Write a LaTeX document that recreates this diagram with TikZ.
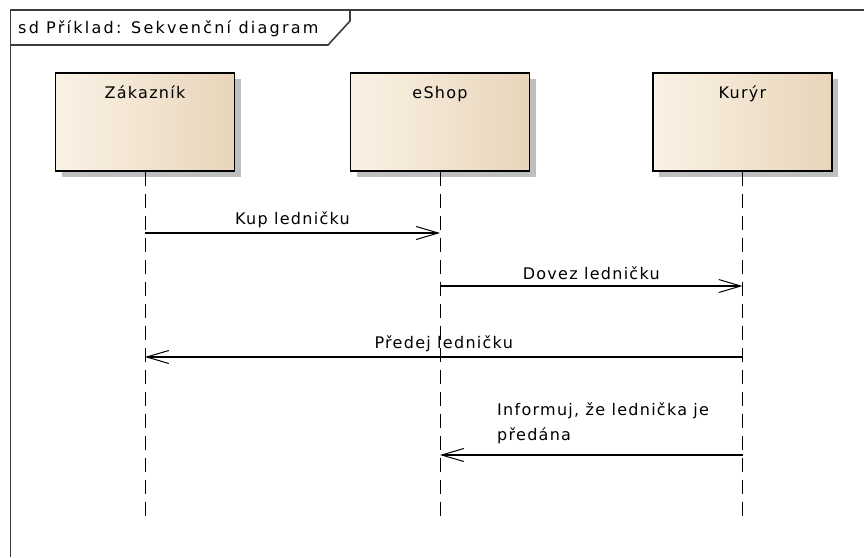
\documentclass[tikz,border=0pt]{standalone}
\usepackage{fontspec}
\usetikzlibrary{arrows.meta,shadows}
\newfontfamily\umlfont[LetterSpace=8]{DejaVu Sans}
\newfontfamily\umltitle[LetterSpace=14]{DejaVu Sans}
\definecolor{boxL}{HTML}{FBF2E5}
\definecolor{boxR}{HTML}{E8D5BA}
\definecolor{frameC}{HTML}{3C3C3C}
\begin{document}
\begin{tikzpicture}[x=1pt,y=-1pt,
  lbl/.style={font=\umlfont\fontsize{16}{25}\selectfont, inner sep=0pt},
  ttl/.style={font=\umltitle\fontsize{16}{25}\selectfont, inner sep=0pt},
  life/.style={draw=black, line width=1.3pt, minimum width=179pt, minimum height=98pt,
    left color=boxL, middle color=boxL, right color=boxR,
    drop shadow={shadow xshift=6pt,shadow yshift=-6pt,fill=black!25,opacity=1}},
  lline/.style={line width=1pt, dash pattern=on 14pt off 8pt},
  msg/.style={line width=1.2pt, -{Straight Barb[length=22pt,width=13pt,line width=1pt]}},
  framestyle/.style={draw=frameC, line width=1.6pt}
]
\useasboundingbox (0,0) rectangle (864,557);
\fill[white] (0,0) rectangle (864,557);
% frame
\draw[framestyle] (10.5,557) -- (10.5,10) -- (864,10);
\draw[framestyle] (10.5,45) -- (328,45) -- (350,21) -- (350,10);
\node[ttl, anchor=base west] (title) at (18,33) {sd Příklad: Sekvenční diagram};
% lifeline heads
\node[life] (zak) at (145,122) {};
\node[life] (shop) at (440,122) {};
\node[life] (kur) at (742.5,122) {};
\node[lbl, anchor=base] (zakN) at (145,98) {Zákazník};
\node[lbl, anchor=base] (shopN) at (440,98) {eShop};
\node[lbl, anchor=base] (kurN) at (742.5,98) {Kurýr};
% lifelines
\coordinate (zakE) at (145,517);
\coordinate (shopE) at (440,517);
\coordinate (kurE) at (742.5,517);
\draw[lline] (zak.south) -- (zakE);
\draw[lline] (shop.south) -- (shopE);
\draw[lline] (kur.south) -- (kurE);
% messages
\coordinate (m1s) at (145,233);  \coordinate (m1e) at (440,233);
\coordinate (m2s) at (440,286);  \coordinate (m2e) at (742.5,286);
\coordinate (m3s) at (742.5,357); \coordinate (m3e) at (145,357);
\coordinate (m4s) at (742.5,455); \coordinate (m4e) at (440,455);
\draw[msg] (m1s) -- (m1e) node[lbl, midway, anchor=base, yshift=9pt] (l1) {Kup ledničku};
\draw[msg] (m2s) -- (m2e) node[lbl, midway, anchor=base, yshift=7pt] (l2) {Dovez ledničku};
\draw[msg] (m3s) -- (m3e) node[lbl, midway, anchor=base, yshift=9pt] (l3) {Předej ledničku};
\draw[msg] (m4s) -- (m4e);
\node[lbl, anchor=base west, align=left] (l4) at (497,440) {Informuj, že lednička je\\předána};
\end{tikzpicture}
\end{document}
